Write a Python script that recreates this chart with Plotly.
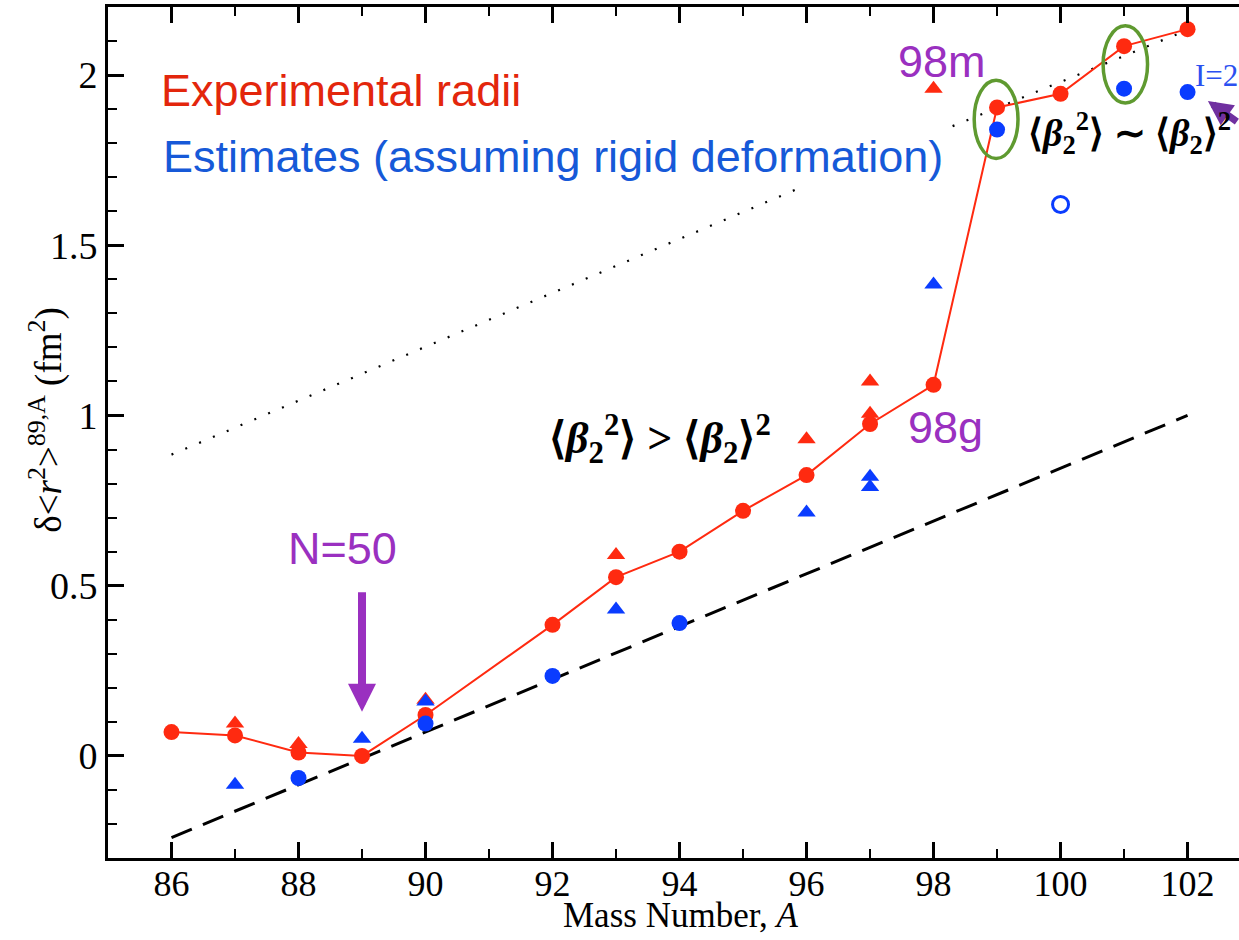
import plotly.graph_objects as go

# ---------------- data ----------------
A_exp = [86, 87, 88, 89, 90, 92, 93, 94, 95, 96, 97, 98, 99, 100, 101, 102]
r_exp = [0.07, 0.06, 0.01, 0.0, 0.12, 0.385, 0.525, 0.60, 0.72, 0.825, 0.975, 1.09, 1.905, 1.945, 2.085, 2.135]

A_exp_tri = [87, 88, 90, 93, 96, 97, 97, 98]
r_exp_tri = [0.095, 0.035, 0.165, 0.59, 0.93, 1.10, 1.005, 1.96]

A_est_circ = [88, 90, 92, 94, 99, 101, 102]
r_est_circ = [-0.065, 0.095, 0.235, 0.39, 1.84, 1.96, 1.95]

A_est_tri = [87, 89, 90, 93, 96, 97, 97, 98]
r_est_tri = [-0.085, 0.05, 0.16, 0.43, 0.715, 0.82, 0.79, 1.385]

A_est_open = [100]
r_est_open = [1.62]

A_dash = [86, 102]
r_dash = [-0.24, 1.0]

A_dot = [86, 95.85, None, 98.3, 101.9]
r_dot = [0.885, 1.665, None, 1.85, 2.125]

x_ticks = [86, 88, 90, 92, 94, 96, 98, 100, 102]
y_ticks = [0, 0.5, 1, 1.5, 2]
y_tick_text = ["0", "0.5", "1", "1.5", "2"]

RED = "#ff2a10"
BLUE = "#0a3cff"
PURPLE = "#9a30c0"
GREEN = "#5f9a30"

fig = go.Figure()

fig.add_trace(go.Scatter(x=A_dash, y=r_dash, mode="lines",
                         line=dict(color="black", width=3, dash="22px,12px"),
                         showlegend=False, hoverinfo="skip"))
fig.add_trace(go.Scatter(x=A_dot, y=r_dot, mode="lines",
                         line=dict(color="black", width=2.2, dash="2px,13px"),
                         showlegend=False, hoverinfo="skip", connectgaps=False))
fig.add_trace(go.Scatter(x=A_exp, y=r_exp, mode="lines+markers",
                         line=dict(color=RED, width=2),
                         marker=dict(symbol="circle", size=16, color=RED),
                         showlegend=False))
fig.add_trace(go.Scatter(x=A_exp_tri, y=r_exp_tri, mode="markers",
                         marker=dict(symbol="triangle-up", size=16, color=RED),
                         showlegend=False))
fig.add_trace(go.Scatter(x=A_est_circ, y=r_est_circ, mode="markers",
                         marker=dict(symbol="circle", size=16, color=BLUE),
                         showlegend=False))
fig.add_trace(go.Scatter(x=A_est_tri, y=r_est_tri, mode="markers",
                         marker=dict(symbol="triangle-up", size=16, color=BLUE),
                         showlegend=False))
fig.add_trace(go.Scatter(x=A_est_open, y=r_est_open, mode="markers",
                         marker=dict(symbol="circle-open", size=16, color=BLUE,
                                     line=dict(width=3, color=BLUE)),
                         showlegend=False))

SANS = "Liberation Sans"
SERIF = "Liberation Serif"

annotations = [
    dict(x=85.8, y=1.955, text="Experimental radii", xanchor="left", yanchor="middle",
         font=dict(family=SANS, size=45, color="#e3260c"), showarrow=False),
    dict(x=85.83, y=1.76, text="Estimates (assuming rigid deformation)", xanchor="left",
         yanchor="middle", font=dict(family=SANS, size=45, color="#1659d8"),
         showarrow=False, bgcolor="white"),
    dict(x=98.13, y=2.04, text="98m", xanchor="center", yanchor="middle",
         font=dict(family=SANS, size=45, color=PURPLE), showarrow=False),
    dict(x=98.19, y=0.965, text="98g", xanchor="center", yanchor="middle",
         font=dict(family=SANS, size=45, color=PURPLE), showarrow=False),
    dict(x=88.69, y=0.61, text="N=50", xanchor="center", yanchor="middle",
         font=dict(family=SANS, size=45, color=PURPLE), showarrow=False),
    dict(x=89.0, y=0.13, ax=89.0, ay=0.485, axref="x", ayref="y", xref="x", yref="y",
         text="", showarrow=True, arrowhead=2, arrowsize=0.7, arrowwidth=8,
         arrowcolor=PURPLE),
    dict(x=102.32, y=1.924, ax=102.8, ay=1.86, axref="x", ayref="y", xref="x", yref="y",
         text="", showarrow=True, arrowhead=2, arrowsize=0.7, arrowwidth=7,
         arrowcolor="#7030a0"),
    dict(x=102.08, y=2.0, text="I=2", xanchor="left", yanchor="middle",
         font=dict(family=SERIF, size=31, color="#2b50f0"), showarrow=False),
    dict(x=93.7, y=0.93,
         text="<b>⟨<i>β</i><sub>2</sub><sup>2</sup>⟩ &gt; ⟨<i>β</i><sub>2</sub>⟩<sup>2</sup></b>",
         xanchor="center", yanchor="middle",
         font=dict(family=SERIF, size=44, color="black"), showarrow=False),
    dict(x=99.45, y=1.83,
         text="<b>⟨<i>β</i><sub>2</sub><sup>2</sup>⟩ ∼ ⟨<i>β</i><sub>2</sub>⟩<sup>2</sup></b>",
         xanchor="left", yanchor="middle",
         font=dict(family=SERIF, size=38, color="black"), showarrow=False),
    # axis titles
    dict(xref="paper", yref="paper", x=0.506, y=-0.0675, xanchor="center", yanchor="middle",
         text="Mass Number, <i>A</i>", font=dict(family=SERIF, size=35, color="black"),
         showarrow=False),
    dict(xref="paper", yref="paper", x=-0.0548, y=0.515, xanchor="center", yanchor="middle",
         textangle=-90,
         text="δ&lt;<i>r</i><sup>2</sup>&gt;<sup>89,A</sup> (fm<sup>2</sup>)",
         font=dict(family=SERIF, size=37, color="black"), showarrow=False),
]

shapes = [
    dict(type="circle", xref="x", yref="y", x0=98.64, x1=99.33, y0=1.755, y1=1.985,
         line=dict(color=GREEN, width=3.5)),
    dict(type="circle", xref="x", yref="y", x0=100.67, x1=101.37, y0=1.918, y1=2.145,
         line=dict(color=GREEN, width=3.5)),
]

fig.update_layout(
    width=1239, height=940,
    margin=dict(l=108, r=0, t=7, b=82),
    plot_bgcolor="white", paper_bgcolor="white",
    annotations=annotations, shapes=shapes,
    showlegend=False,
)

fig.update_xaxes(
    range=[85, 102.81], tickvals=x_ticks, ticks="inside", ticklen=16, tickwidth=2.5,
    tickcolor="black", showline=True, linewidth=3, linecolor="black", mirror="ticks",
    showgrid=False, zeroline=False, ticklabelstandoff=-8,
    tickfont=dict(family=SERIF, size=36, color="black"),
    minor=dict(dtick=1, tick0=85, ticks="inside", ticklen=9, tickwidth=2, tickcolor="black"),
)
fig.update_yaxes(
    range=[-0.3, 2.2], tickvals=y_ticks, ticktext=y_tick_text, ticks="inside", ticklen=16,
    tickwidth=2.5, tickcolor="black", showline=True, linewidth=3, linecolor="black",
    mirror=False, showgrid=False, zeroline=False,
    tickfont=dict(family=SERIF, size=38, color="black"),
    minor=dict(dtick=0.1, tick0=0, ticks="inside", ticklen=9, tickwidth=2, tickcolor="black"),
)

fig.write_html("out.html", config={"displayModeBar": False},
               post_script="document.body.style.margin='0';document.body.style.overflow='hidden';")
